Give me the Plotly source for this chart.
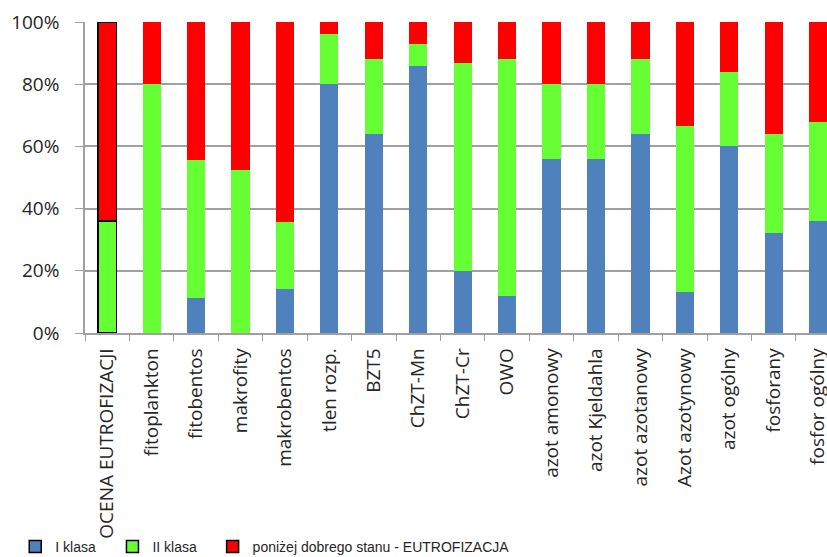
import plotly.graph_objects as go

# Share of monitoring sites in each class, per indicator (%)
categories = [
    "OCENA EUTROFIZACJI", "fitoplankton", "fitobentos", "makrofity", "makrobentos",
    "tlen rozp.", "BZT5", "ChZT-Mn", "ChZT-Cr", "OWO", "azot amonowy",
    "azot Kjeldahla", "azot azotanowy", "Azot azotynowy", "azot ogólny",
    "fosforany", "fosfor ogólny",
]
klasa_1 = [0, 0, 11.1, 0, 14.3, 80, 64, 85.7, 20, 12, 56, 56, 64, 13.3, 60, 32, 36]
klasa_2 = [36, 80, 44.4, 52.4, 21.4, 16, 24, 7.1, 66.7, 76, 24, 24, 24, 53.3, 24, 32, 32]
ponizej = [64, 20, 44.5, 47.6, 64.3, 4, 12, 7.2, 13.3, 12, 20, 20, 12, 33.4, 16, 36, 32]

series_names = ["I klasa", "II klasa", "poniżej dobrego stanu - EUTROFIZACJA"]
series_values = [klasa_1, klasa_2, ponizej]
series_colors = ["#4F81BD", "#66FF33", "#FF0000"]

# each series has its own legend box so the entries can be spaced freely
legend_ids = ["legend", "legend2", "legend3"]
legend_x = [-0.094, 0.037, 0.172]

# the overall assessment bar gets a black outline
outline_w = [1.5] + [0] * (len(categories) - 1)

fig = go.Figure()
for name, vals, col, lid in zip(series_names, series_values, series_colors, legend_ids):
    fig.add_trace(go.Bar(
        x=categories, y=vals, name=name, legend=lid,
        marker=dict(color=col, line=dict(color="black", width=outline_w)),
        width=0.41,
    ))

axis_font = dict(family="Open Sans", size=19, color="#262626")
legend_font = dict(family="Liberation Sans", size=14, color="#262626")

legend_boxes = {
    lid: dict(
        orientation="h", x=lx, xanchor="left", y=-0.688, yanchor="middle",
        font=legend_font, itemwidth=30, bgcolor="rgba(0,0,0,0)",
    )
    for lid, lx in zip(legend_ids, legend_x)
}

fig.update_layout(
    barmode="stack",
    width=827, height=557,
    margin=dict(l=85, r=0, t=22, b=224, autoexpand=False),
    paper_bgcolor="white", plot_bgcolor="white",
    showlegend=True,
    xaxis=dict(
        range=[-0.5, 16.2], tickangle=-90, tickfont=axis_font,
        showline=True, linecolor="#A0A0A0", linewidth=1.5,
        ticks="outside", tickson="boundaries", ticklen=6, tickcolor="#A0A0A0",
        showgrid=False, automargin=False, ticklabelstandoff=6,
    ),
    yaxis=dict(
        range=[0, 100], dtick=20, ticksuffix="%", tickfont=axis_font,
        showline=True, linecolor="#A0A0A0", linewidth=1.5,
        ticks="outside", ticklen=8, tickcolor="#A0A0A0",
        showgrid=True, gridcolor="#A0A0A0", gridwidth=1.5,
        zeroline=False, automargin=False, ticklabelstandoff=12,
    ),
    **legend_boxes,
)

fig.write_html("out.html")
